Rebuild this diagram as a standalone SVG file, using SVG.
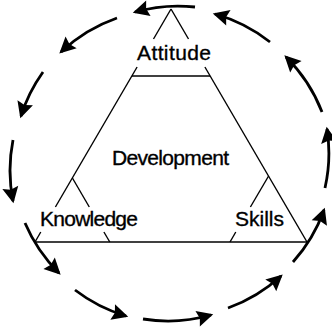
<svg xmlns="http://www.w3.org/2000/svg" width="332" height="329" viewBox="0 0 332 329">
  <style>
    .edge { stroke: #000; stroke-width: 1.4; fill: none; stroke-linecap: butt; }
    .cycle { stroke: #000; stroke-width: 2.8; fill: none; marker-end: url(#head); }
    .label { font-family: "Liberation Sans", Arial, Helvetica, sans-serif; font-size: 21px; fill: #000; stroke: #000; stroke-width: 0.35; text-anchor: middle; }
  </style>
  <defs>
    <marker id="head" markerUnits="userSpaceOnUse" markerWidth="22" markerHeight="22" refX="0" refY="0" viewBox="-16 -9 19 18" orient="auto">
      <path d="M2,0 L-12,-7 L-10,0 L-12,7 Z" fill="#000"/>
    </marker>
  </defs>

  <rect width="332" height="329" fill="#fff"/>

  <!-- triangle edges, broken where labels sit -->
  <g id="connectors">
    <!-- left edge -->
    <line class="edge" x1="171" y1="9" x2="153.5" y2="39"/>
    <line class="edge" x1="137.1" y1="67" x2="55.4" y2="207"/>
    <line class="edge" x1="40.8" y1="232" x2="35" y2="242"/>
    <!-- right edge -->
    <line class="edge" x1="171" y1="9" x2="188.5" y2="39"/>
    <line class="edge" x1="204.9" y1="67" x2="307" y2="242"/>
    <!-- base -->
    <line class="edge" x1="35" y1="242" x2="307" y2="242"/>
    <!-- top corner base -->
    <line class="edge" x1="131.9" y1="76" x2="210.1" y2="76"/>
    <!-- knowledge corner -->
    <line class="edge" x1="72.4" y1="178" x2="89.3" y2="207"/>
    <line class="edge" x1="103.9" y1="232" x2="109.8" y2="242"/>
    <!-- skills corner -->
    <line class="edge" x1="268.6" y1="176" x2="250.4" y2="207"/>
    <line class="edge" x1="235.8" y1="232" x2="230" y2="242"/>

    <!-- surrounding cycle of arrows -->
    <path class="cycle" d="M195,7 A157,157 0 0 0 135,12"/>
    <path class="cycle" d="M117,18 A157,157 0 0 0 61,52"/>
    <path class="cycle" d="M43,72 A157,157 0 0 0 21,116"/>
    <path class="cycle" d="M13,140 A157,157 0 0 0 13,201"/>
    <path class="cycle" d="M25,223 A157,157 0 0 0 59,273"/>
    <path class="cycle" d="M75,290 A157,157 0 0 0 126,316"/>
    <path class="cycle" d="M143,319 A157,157 0 0 0 211,315"/>
    <path class="cycle" d="M228,308 A157,157 0 0 0 281,276"/>
    <path class="cycle" d="M293,262 A157,157 0 0 0 324,210"/>
    <path class="cycle" d="M325,188 A157,157 0 0 0 327,129"/>
    <path class="cycle" d="M322,112 A157,157 0 0 0 286,57"/>
    <path class="cycle" d="M270,42 A157,157 0 0 0 215,14"/>
  </g>

  <g id="attitude">
    <text class="label" x="174" y="60" textLength="74" lengthAdjust="spacing">Attitude</text>
  </g>
  <g id="development">
    <text class="label" x="170.5" y="165" textLength="117" lengthAdjust="spacing">Development</text>
  </g>
  <g id="knowledge">
    <text class="label" x="89" y="226" textLength="98" lengthAdjust="spacing">Knowledge</text>
  </g>
  <g id="skills">
    <text class="label" x="259.5" y="226" textLength="49" lengthAdjust="spacing">Skills</text>
  </g>
</svg>
